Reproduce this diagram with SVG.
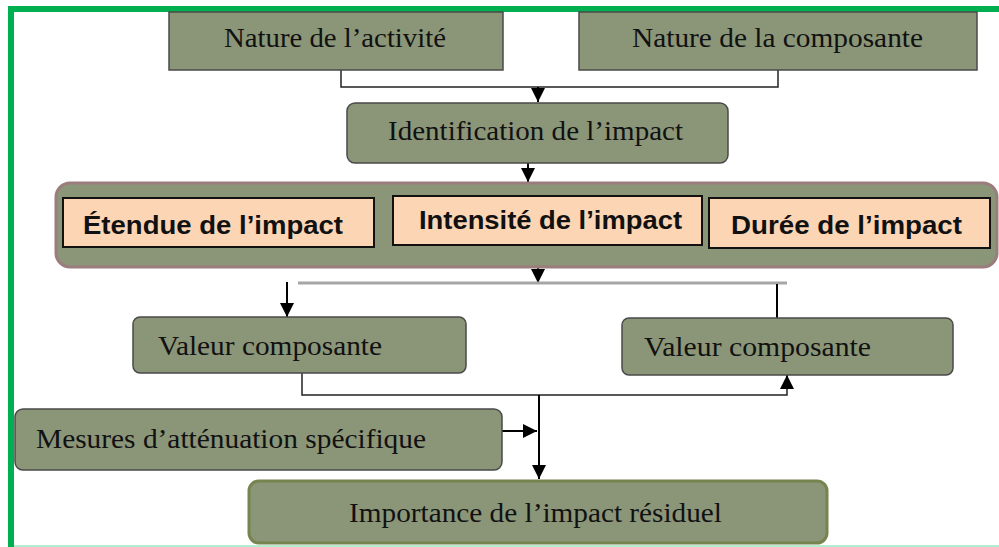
<svg xmlns="http://www.w3.org/2000/svg" width="999" height="547" viewBox="0 0 999 547">
<defs>
<marker id="ahb" viewBox="0 0 10 10" refX="10" refY="5" markerWidth="14" markerHeight="14" markerUnits="userSpaceOnUse" orient="auto">
<path d="M0,0 L10,5 L0,10 z" fill="#000"/>
</marker>
</defs>
<style>
.box{fill:#8b9578;stroke:#4a4a4a;stroke-width:1.5}
.t{font-family:"Liberation Serif","Times New Roman",serif;font-size:28px;fill:#111}
.peach{fill:#fcd5b4;stroke:#111;stroke-width:2}
.b{font-family:"Liberation Sans",Arial,sans-serif;font-weight:bold;font-size:25px;fill:#111}
.c{fill:none;stroke:#222;stroke-width:1.5}
.ck{fill:none;stroke:#000;stroke-width:2}
</style>
<rect width="999" height="547" fill="#fff"/>
<g id="frame">
<line x1="11" y1="6" x2="11" y2="547" stroke="#00b050" stroke-width="6"/>
<line x1="8" y1="9" x2="999" y2="9" stroke="#00b050" stroke-width="6"/>
<line x1="14" y1="546" x2="999" y2="546" stroke="#b5ecd0" stroke-width="2"/>
</g>
<g id="connectors">
<path class="c" d="M341,70 V87 H778 V70"/>
<line class="ck" x1="538" y1="87" x2="538" y2="102" marker-end="url(#ahb)"/>
<line class="ck" x1="528" y1="163" x2="528" y2="182" marker-end="url(#ahb)"/>
<line class="ck" x1="538" y1="267" x2="538" y2="283" marker-end="url(#ahb)"/>
<line x1="298" y1="283" x2="787" y2="283" stroke="#a6a6a6" stroke-width="3"/>
<line class="ck" x1="287" y1="282" x2="287" y2="317" marker-end="url(#ahb)"/>
<line class="ck" x1="777" y1="284" x2="777" y2="319"/>
<path class="c" d="M302,373 V395 H787 V377"/>
<line class="ck" x1="787" y1="385" x2="787" y2="375" marker-end="url(#ahb)"/>
<line class="ck" x1="539" y1="395" x2="539" y2="479" marker-end="url(#ahb)"/>
<line class="ck" x1="502" y1="431" x2="537" y2="431" marker-end="url(#ahb)"/>
</g>
<g id="nature-activite">
<rect class="box" x="169" y="12" width="334" height="58"/>
<text class="t" x="224" y="47" textLength="222" lengthAdjust="spacingAndGlyphs">Nature de l’activité</text>
</g>
<g id="nature-composante">
<rect class="box" x="579" y="12" width="398" height="58"/>
<text class="t" x="632" y="47" textLength="291" lengthAdjust="spacingAndGlyphs">Nature de la composante</text>
</g>
<g id="identification">
<rect class="box" x="347" y="103" width="381" height="60" rx="8"/>
<text class="t" x="388" y="140" textLength="295" lengthAdjust="spacingAndGlyphs">Identification de l’impact</text>
</g>
<g id="criteres">
<rect x="56" y="183" width="941" height="84" rx="14" fill="#8b9578" stroke="#9c7d7d" stroke-width="3"/>
</g>
<g id="etendue">
<rect class="peach" x="63" y="198" width="311" height="49"/>
<text class="b" x="83" y="234" textLength="260" lengthAdjust="spacingAndGlyphs">Étendue de l’impact</text>
</g>
<g id="intensite">
<rect class="peach" x="393" y="196" width="309" height="49"/>
<text class="b" x="419" y="229" textLength="263" lengthAdjust="spacingAndGlyphs">Intensité de l’impact</text>
</g>
<g id="duree">
<rect class="peach" x="709" y="198" width="281" height="50"/>
<text class="b" x="731" y="234" textLength="231" lengthAdjust="spacingAndGlyphs">Durée de l’impact</text>
</g>
<g id="valeur-gauche">
<rect class="box" x="133" y="317" width="333" height="56" rx="7"/>
<text class="t" x="158" y="355" textLength="224" lengthAdjust="spacingAndGlyphs">Valeur composante</text>
</g>
<g id="valeur-droite">
<rect class="box" x="622" y="318" width="331" height="57" rx="7"/>
<text class="t" x="644" y="356" textLength="227" lengthAdjust="spacingAndGlyphs">Valeur composante</text>
</g>
<g id="mesures">
<rect class="box" x="15" y="409" width="487" height="61" rx="8"/>
<text class="t" x="36" y="448" textLength="390" lengthAdjust="spacingAndGlyphs">Mesures d’atténuation spécifique</text>
</g>
<g id="importance">
<rect x="249" y="481" width="578" height="62" rx="10" fill="#8b9578" stroke="#76844f" stroke-width="3"/>
<text class="t" x="349" y="522" textLength="373" lengthAdjust="spacingAndGlyphs">Importance de l’impact résiduel</text>
</g>
</svg>
